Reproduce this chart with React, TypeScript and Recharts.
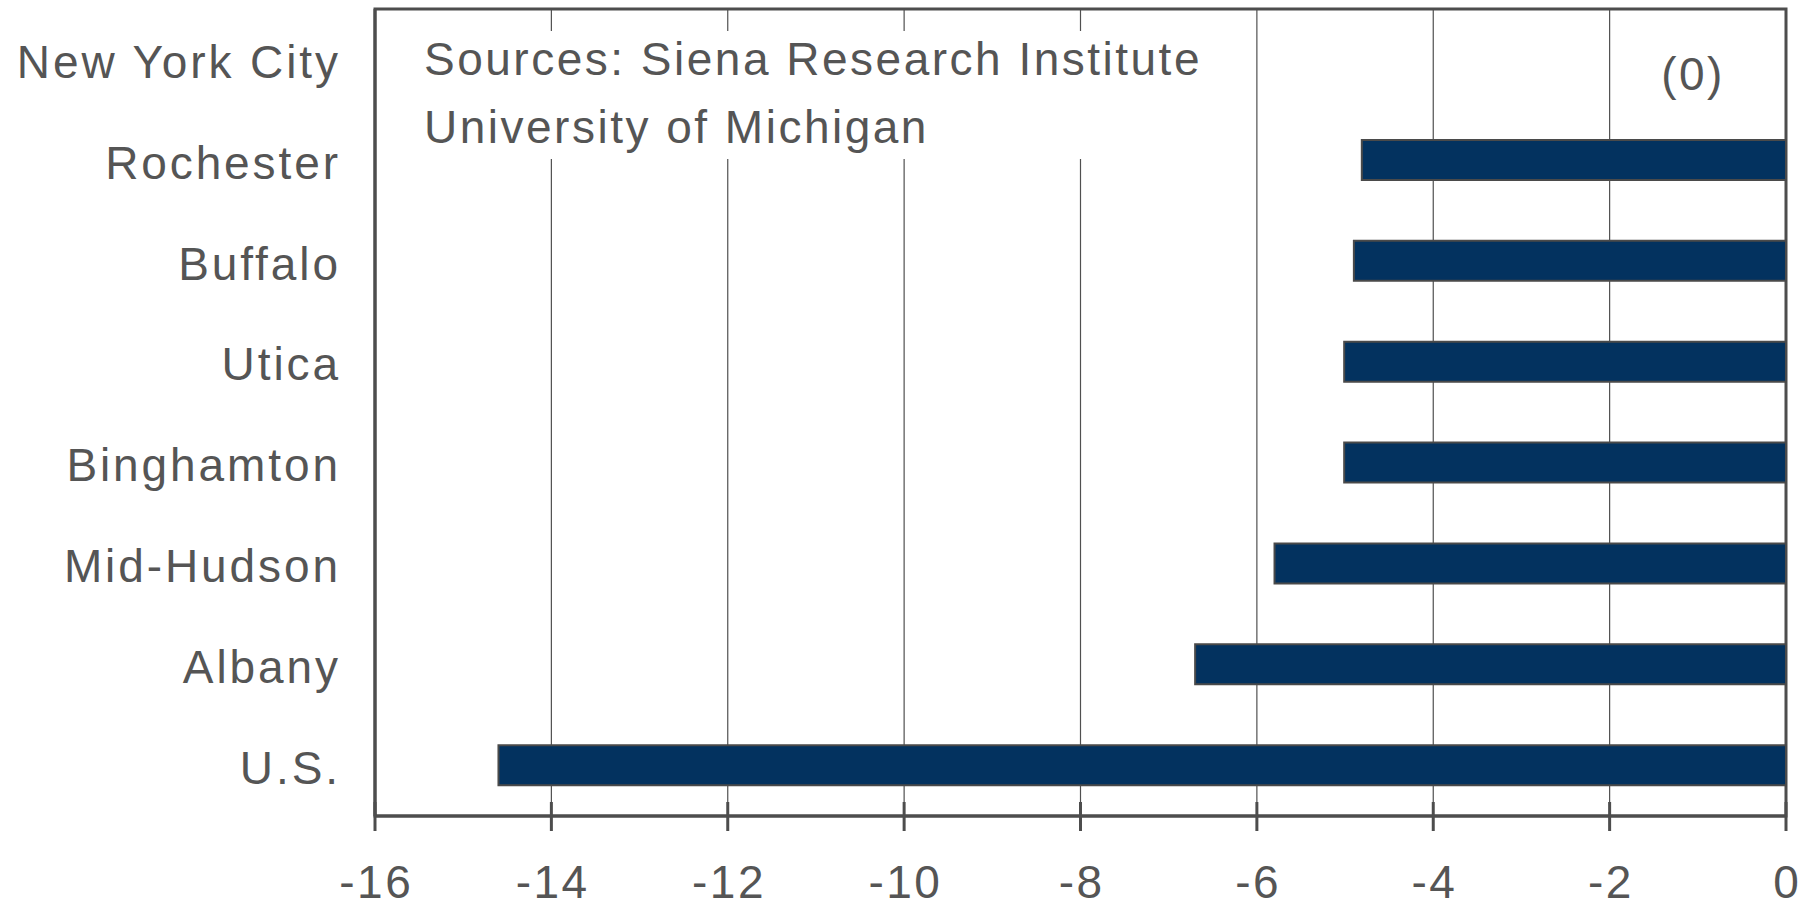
import React from "react";
import {
  BarChart,
  Bar,
  XAxis,
  YAxis,
  CartesianGrid,
  ReferenceArea,
  ReferenceDot,
} from "recharts";

const categories = [
  "New York City",
  "Rochester",
  "Buffalo",
  "Utica",
  "Binghamton",
  "Mid-Hudson",
  "Albany",
  "U.S.",
];
const values = [0, -4.81, -4.9, -5.01, -5.01, -5.8, -6.7, -14.6];
const xTicks = [-16, -14, -12, -10, -8, -6, -4, -2, 0];
const sourceLines = ["Sources: Siena Research Institute", "University of Michigan"];

const data = categories.map((name, i) => ({ name, value: values[i] }));

const FONT = "'Liberation Sans', Arial, sans-serif";
const TEXT = "#555555";
const AXIS = "#4d4d4d";
const FS = 46;
const LS = 2.5;
const LSY = 2.9;

const XTick = (p: any) => {
  const { x, y, payload } = p;
  return (
    <g>
      <line x1={x} x2={x} y1={y - 14} y2={y + 15} stroke={AXIS} strokeWidth={3} />
      <text
        x={x + LS / 2}
        y={y + 82}
        textAnchor="middle"
        fill={TEXT}
        fontFamily={FONT}
        fontSize={FS}
        letterSpacing={LS}
      >
        {payload.value}
      </text>
    </g>
  );
};

const YTick = (p: any) => {
  const { x, y, payload } = p;
  return (
    <text
      x={x + LSY}
      y={y}
      dy="0.4em"
      textAnchor="end"
      fill={TEXT}
      fontFamily={FONT}
      fontSize={FS}
      letterSpacing={LSY}
    >
      {payload.value}
    </text>
  );
};

const ZeroLabelShape = (p: any) => {
  const { cx, cy } = p;
  return (
    <text
      x={cx - 93}
      y={cy + 31}
      textAnchor="middle"
      fill={TEXT}
      fontFamily={FONT}
      fontSize={FS}
      letterSpacing={LS}
    >
      ({values[0]})
    </text>
  );
};

export default function App() {
  return (
    <div style={{ position: "absolute", left: 0, top: 0, width: 1816, height: 903, background: "#fff" }}>
      <BarChart
        width={1816}
        height={903}
        data={data}
        layout="vertical"
        margin={{ top: 9, right: 30, bottom: 0, left: 0 }}
      >
        <CartesianGrid horizontal={false} vertical={true} stroke="#505050" strokeWidth={1.2} />
        <XAxis
          type="number"
          domain={[-16, 0]}
          ticks={xTicks}
          interval={0}
          height={87}
          tickSize={0}
          tickMargin={0}
          tickLine={false}
          axisLine={{ stroke: AXIS, strokeWidth: 3 }}
          tick={<XTick />}
        />
        <YAxis
          type="category"
          dataKey="name"
          width={375}
          interval={0}
          tickSize={0}
          tickMargin={37}
          tickLine={false}
          axisLine={{ stroke: AXIS, strokeWidth: 3 }}
          tick={<YTick />}
        />
        <Bar
          dataKey="value"
          fill="#03325f"
          stroke="#4a4a4a"
          strokeWidth={2}
          barSize={40}
          isAnimationActive={false}
        />
        <ReferenceArea
          x1={-16}
          x2={0}
          fill="none"
          fillOpacity={0}
          stroke={AXIS}
          strokeWidth={3}
          ifOverflow="visible"
        />
        <ReferenceDot
          x={0}
          y={categories[0]}
          r={1}
          ifOverflow="visible"
          shape={<ZeroLabelShape />}
        />
      </BarChart>
      <svg
        width={850}
        height={128}
        style={{ position: "absolute", left: 385, top: 31 }}
      >
        <rect x={0} y={0} width={850} height={128} fill="#ffffff" />
        {sourceLines.map((t, i) => (
          <text
            key={i}
            x={424 - 385}
            y={75 - 31 + i * 68}
            fill={TEXT}
            fontFamily={FONT}
            fontSize={FS}
            letterSpacing={LS}
          >
            {t}
          </text>
        ))}
      </svg>
    </div>
  );
}
